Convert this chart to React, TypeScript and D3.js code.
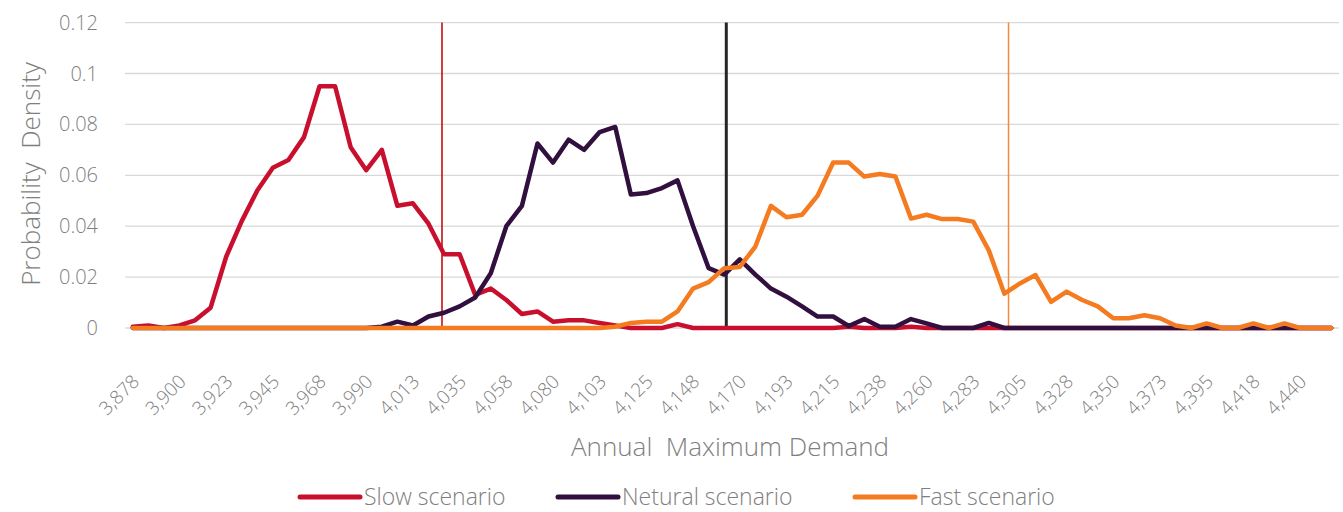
import { useEffect, useRef } from 'react';
import * as d3 from 'd3';

// demand bins (every 3rd one is labelled on the axis)
const binStart = 3878;
const binStep = 7.5;
const binCount = 78;

const tickLabels = [
  '3,878', '3,900', '3,923', '3,945', '3,968', '3,990', '4,013', '4,035', '4,058',
  '4,080', '4,103', '4,125', '4,148', '4,170', '4,193', '4,215', '4,238', '4,260',
  '4,283', '4,305', '4,328', '4,350', '4,373', '4,395', '4,418', '4,440',
];

const yTicks = [0, 0.02, 0.04, 0.06, 0.08, 0.1, 0.12];

const slow = [
  0.0005, 0.001, 0, 0.001, 0.003, 0.008, 0.028, 0.042, 0.054, 0.063,
  0.066, 0.075, 0.095, 0.095, 0.071, 0.062, 0.07, 0.048, 0.049, 0.041,
  0.029, 0.029, 0.013, 0.0155, 0.011, 0.0055, 0.0065, 0.0025, 0.003, 0.003,
  0.002, 0.001, 0, 0, 0, 0.0015, 0, 0, 0, 0,
  0, 0, 0, 0, 0, 0, 0.0005, 0, 0, 0,
  0.0005, 0, 0, 0, 0, 0, 0, 0, 0, 0,
  0, 0, 0, 0, 0, 0, 0, 0, 0, 0,
  0, 0, 0, 0, 0, 0, 0, 0,
];

const neutral = [
  0, 0, 0, 0, 0, 0, 0, 0, 0, 0,
  0, 0, 0, 0, 0, 0, 0.0005, 0.0025, 0.001, 0.0045,
  0.006, 0.0085, 0.012, 0.0215, 0.04, 0.048, 0.0725, 0.065, 0.074, 0.07,
  0.077, 0.079, 0.0525, 0.053, 0.055, 0.058, 0.04, 0.0235, 0.021, 0.027,
  0.021, 0.0155, 0.0123, 0.0085, 0.0045, 0.0045, 0.0008, 0.0035, 0.0005, 0.0005,
  0.0035, 0.0018, 0, 0, 0, 0.002, 0, 0, 0, 0,
  0, 0, 0, 0, 0, 0, 0, 0, 0, 0,
  0, 0, 0, 0, 0, 0, 0, 0,
];

const fast = [
  0, 0, 0, 0, 0, 0, 0, 0, 0, 0,
  0, 0, 0, 0, 0, 0, 0, 0, 0, 0,
  0, 0, 0, 0, 0, 0, 0, 0, 0, 0,
  0, 0.0005, 0.002, 0.0025, 0.0025, 0.0065, 0.0155, 0.018, 0.0235, 0.024,
  0.032, 0.048, 0.0435, 0.0445, 0.052, 0.065, 0.065, 0.0595, 0.0605, 0.0595,
  0.043, 0.0445, 0.0428, 0.0428, 0.0418, 0.0305, 0.0135, 0.0175, 0.0208, 0.0103,
  0.0143, 0.011, 0.0085, 0.0038, 0.0038, 0.005, 0.0038, 0.001, 0, 0.0018,
  0, 0, 0.0018, 0, 0.0018, 0, 0, 0,
];

// vertical reference lines (annual max demand)
const markers = [
  { value: 4027, color: '#C00000', width: 1.5 },
  { value: 4164, color: '#262626', width: 3 },
  { value: 4300, color: '#F58A3A', width: 1.5 },
];

const series = [
  { name: 'Slow scenario', values: slow, color: '#C8102E' },
  { name: 'Netural scenario', values: neutral, color: '#31103F' },
  { name: 'Fast scenario', values: fast, color: '#F47B20' },
];

const App = () => {
  const svgRef = useRef<SVGSVGElement | null>(null);

  useEffect(() => {
    document.body.style.margin = '0';
    if (!svgRef.current) return;
    const svg = d3.select(svgRef.current);
    svg.selectAll('*').remove();

    const left = 125, right = 1339, top = 22.6, bottom = 328;
    const font = '"Open Sans", sans-serif';
    const grey = '#7F7F7F';

    const idx = d3.range(binCount);
    const x = d3.scalePoint<number>().domain(idx).range([left, right]).padding(0.5);
    const xDemand = d3.scaleLinear()
      .domain([binStart, binStart + binStep * (binCount - 1)])
      .range([x(0)!, x(binCount - 1)!]);
    const y = d3.scaleLinear().domain([0, 0.12]).range([bottom, top]);

    // gridlines
    svg.append('g')
      .selectAll('line')
      .data(yTicks)
      .join('line')
      .attr('x1', left).attr('x2', right)
      .attr('y1', d => y(d)).attr('y2', d => y(d))
      .attr('stroke', '#D9D9D9').attr('stroke-width', 1.3);

    // y tick labels
    svg.append('g')
      .selectAll('text')
      .data(yTicks)
      .join('text')
      .attr('x', 98).attr('y', d => y(d))
      .attr('dy', '0.35em')
      .attr('text-anchor', 'end')
      .attr('font-family', font).attr('font-size', 20).attr('font-weight', 300).attr('fill', grey)
      .text(d => d3.format('~g')(d));

    // x tick labels, rotated
    svg.append('g')
      .selectAll('text')
      .data(tickLabels)
      .join('text')
      .attr('transform', (_, i) => `translate(${x(i * 3)! + 3},${378}) rotate(-45)`)
      .attr('dy', '0.35em')
      .attr('text-anchor', 'end')
      .attr('font-family', font).attr('font-size', 19).attr('font-weight', 300).attr('fill', grey)
      .text(d => d);

    // reference lines
    svg.append('g')
      .selectAll('line')
      .data(markers)
      .join('line')
      .attr('x1', d => xDemand(d.value)).attr('x2', d => xDemand(d.value))
      .attr('y1', y(0.12)).attr('y2', y(0))
      .attr('stroke', d => d.color).attr('stroke-width', d => d.width);

    const line = d3.line<number>()
      .x((_, i) => x(i)!)
      .y(d => y(d));

    svg.append('g')
      .selectAll('path')
      .data(series)
      .join('path')
      .attr('d', d => line(d.values))
      .attr('fill', 'none')
      .attr('stroke', d => d.color)
      .attr('stroke-width', 4.5)
      .attr('stroke-linejoin', 'round')
      .attr('stroke-linecap', 'round');

    // axis titles
    svg.append('text')
      .attr('x', 730).attr('y', 456)
      .attr('text-anchor', 'middle')
      .attr('font-family', font).attr('font-size', 26).attr('font-weight', 300).attr('fill', grey)
      .style('white-space', 'pre')
      .text('Annual  Maximum Demand');

    svg.append('text')
      .attr('transform', 'translate(40,174) rotate(-90)')
      .attr('text-anchor', 'middle')
      .attr('font-family', font).attr('font-size', 26).attr('font-weight', 300).attr('fill', grey)
      .style('white-space', 'pre')
      .text('Probability  Density');

    // legend
    const legendX = [298, 556, 853];
    const lg = svg.append('g')
      .selectAll('g')
      .data(series)
      .join('g')
      .attr('transform', (_, i) => `translate(${legendX[i]},497)`);
    lg.append('line')
      .attr('x1', 2).attr('x2', 62)
      .attr('stroke', d => d.color).attr('stroke-width', 5)
      .attr('stroke-linecap', 'round');
    lg.append('text')
      .attr('x', 66).attr('dy', '0.35em')
      .attr('font-family', font).attr('font-size', 23).attr('font-weight', 300).attr('fill', grey)
      .text(d => d.name);
  }, []);

  return <svg ref={svgRef} width={1343} height={512} style={{ display: 'block' }} />;
};

export default App;
